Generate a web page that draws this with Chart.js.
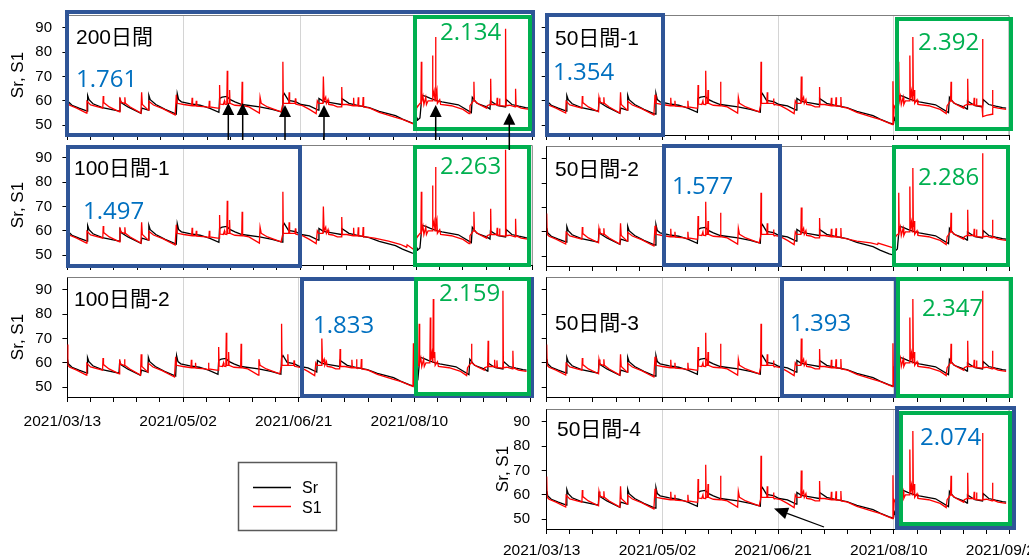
<!DOCTYPE html>
<html>
<head>
<meta charset="utf-8">
<script src="https://cdn.jsdelivr.net/npm/chart.js@4.4.1/dist/chart.umd.min.js"></script>
<style>
  body { margin: 0; background: #fff; width: 1029px; height: 556px; position: relative; overflow: hidden; }
  canvas { position: absolute; }
  #overlay { position: absolute; left: 0; top: 0; }
</style>
</head>
<body>
<svg id="overlay" width="1029" height="556"></svg>
<script>
// ---- data: day offsets from 2021/03/13 and values ----
const dateLabels = ['2021/03/13', '2021/05/02', '2021/06/21', '2021/08/10', '2021/09/29'];
const yTicks = [50, 60, 70, 80, 90];

const sr = [
  [0,61.5],[0.5,59.5],[2,58.2],[5,57],[8.5,55.8],
  [8.7,62.2],[9.3,60.5],[11,58.8],[15,57.2],[22.3,55.8],
  [22.6,60.5],[23.2,59.2],[26,57.5],[31.6,54.9],
  [32,57],[34.8,56.2],[35,62.3],[35.6,60.5],[38,58.5],[42,56.5],[46.8,54.6],
  [47.2,63],[47.8,60.5],[49,59.6],[53,58.8],[57,58.2],[61,57],[65.1,55.3],
  [65.4,61],[66.5,61.5],[68.5,61.8],[70,60.5],[72,59.6],[75,58.5],[82.6,57.5],[88,56.5],[92.3,55.4],
  [92.6,62],[93.2,63],[95,60.2],[98,59.7],[100.4,58.5],[104,57.9],[107.8,56.2],
  [108.1,61],[110,59.8],[115,59],[117.7,58.5],
  [117.9,61],[121,59],[125,58],[129.7,57.2],[134,55.7],[141,53.9],[144,52.5],[148,51],[149.8,50.5],
  [150.2,53],[150.6,52.2],[151.5,53],[152.3,61.5],[152.7,62.2],[154,61.8],[156,61],[159,60],[161,59.6],[168,58.4],[173.6,55.2],
  [174,61.5],[176,59],[180.4,57.4],[181.6,56.6],[181.8,60],[185,58],[188.3,57.5],
  [188.6,60.5],[191,58.5],[194,57.8],[196.9,57.2],[198.5,57]
];

const s1 = [
  [0,67.5],[0.2,59],[1,58.2],[4,57],[8.2,55],
  [8.4,59.8],[10,58.3],[15.2,57],[15.4,62],[15.6,59.3],[18,57.5],[22.4,55.5],
  [22.6,61.4],[23,59.5],[24.5,59],[24.7,61.5],[24.9,59],[27,57.5],[31.6,55],
  [31.9,63.5],[32.2,58.5],[34.8,56.2],[35,59.8],[37,58.3],[41,56.8],[46.3,54.2],
  [46.8,62.5],[47.2,59],[50,58.5],[53.4,58],[53.6,61.3],[53.8,58],[55.2,58],[55.4,60],[55.6,57.8],[59.5,57.5],[60.8,57.2],[61,60],[61.2,57.5],[64.5,57],
  [65.2,57],[65.4,66.5],[65.6,58.7],[67,58.5],[67.5,60],[67.7,58.6],[68.5,58.5],[68.7,72.3],[68.9,59],[69.5,59],[69.7,64.4],[69.9,59],[72,58.2],[74.9,58],[75.1,67.8],[75.3,58],[78,57.5],[82.5,55],
  [82.8,61.5],[83.3,59],[86,57.5],[91.8,55.5],
  [92.4,58],[92.6,76],[92.8,59],[95.1,59],[95.3,63.5],[95.5,59],[97.8,59],[98,61],[98.2,58.6],[101,58],[104,56.5],[106.9,54.8],
  [107.4,60],[108,59],[109.8,59],[110,70],[110.3,60],[111,61.5],[111.3,59],[112,60.5],[112.3,58.5],[114,58.3],[116,57.5],[117.7,57.5],[117.9,65.7],[118.1,58.5],[120,58.5],[122.8,58],[123,61.3],[123.2,58],[124.8,58],[125,61.5],[125.2,57.8],[126.9,57.8],[127.1,61.6],[127.3,57.5],[130,57],[134,55.3],[141,53.2],[144,52.4],[149.4,50.3],[149.6,68],[149.8,50.5],
  [150.1,58],[150.4,57.5],[151.5,59],[151.9,59],[152.1,76],[152.3,60],[152.8,62],[153.2,58.5],[154,61.5],[154.3,58.5],[155,60],[156.7,60],[156.9,78.6],[157.1,61],[157.6,64],[158,60],[158.2,86.2],[158.4,62],[158.8,64.4],[159,59],[160,60.5],[160.4,58.5],[165,58],[170,56.5],[172.6,54.8],
  [173,58],[174.5,60],[174.7,67.8],[174.9,60],[177,58.5],[180.2,57],[180.4,58],[181.7,58.5],[181.9,69.1],[182.1,58.5],[184.5,58.5],[184.7,61.3],[184.9,58.2],[185.5,58.2],[185.7,61],[185.9,58],[188.1,57.8],[188.3,89.6],[188.5,58],[190,58.2],[192.4,57.5],[192.6,65],[192.8,58],[195,57],[198.5,56.5]
];

// S1 differs a little between the fitting windows: replacement stretches
const s1Late100_1 = [[127.5,57.6],[132,57],[138,55.8],[143,54.5],[145.8,53.3],[146,54.3],[149.4,52],[149.6,68],[149.8,51.5]];
const s1Peak100_1 = [[188.3,93.3]];
const s1End50_1 = [[188.3,85.4],[188.5,53.5],[190,54],[192.4,54.5],[192.6,64.5],[192.8,57.5]];
const s1Late50_2 = [[127.5,57.6],[134,56.2],[140,55.5],[143,54.8],[143.2,55.4],[149.4,53.5],[149.6,68],[149.8,53.5]];
const s1Peak50_2 = [[188.3,92.2]];
const s1Peak50_4 = [[188.3,85.4]];

const panelNames = ['200日間', '100日間-1', '100日間-2', '50日間-1', '50日間-2', '50日間-3', '50日間-4'];
const blueScores = ['1.761', '1.497', '1.833', '1.354', '1.577', '1.393', '2.074'];
const greenScores = ['2.134', '2.263', '2.159', '2.392', '2.286', '2.347', ''];
const panelPatches = [[], [s1Late100_1, s1Peak100_1], [], [s1End50_1], [s1Late50_2, s1Peak50_2], [], [s1Peak50_4]];

// ---- layout ----
const PLOT_H = 120, PAD_T = 22, PAD_B = 14;
const cols = {
  L: { plotL: 67.4, plotR: 532.8 },
  R: { plotL: 546.7, plotR: 1009.6 }
};
const panels = [
  { col: 'L', top: 15,    canvasL: 0,   canvasR: 540,  xLabels: false, yLabels: true },
  { col: 'L', top: 145,   canvasL: 0,   canvasR: 540,  xLabels: false, yLabels: true },
  { col: 'L', top: 277,   canvasL: 0,   canvasR: 540,  xLabels: true,  yLabels: true, xPad: 10 },
  { col: 'R', top: 15,    canvasL: 540, canvasR: 1029, xLabels: false, yLabels: false },
  { col: 'R', top: 145.5, canvasL: 540, canvasR: 1029, xLabels: false, yLabels: false },
  { col: 'R', top: 277,   canvasL: 540, canvasR: 1029, xLabels: false, yLabels: false },
  { col: 'R', top: 408.5, canvasL: 490, canvasR: 1062, xLabels: true,  yLabels: true, xPad: 7, last: true }
];

function applyPatches(base, patches) {
  let out = base.slice();
  patches.forEach(p => {
    const lo = p[0][0], hi = p[p.length - 1][0];
    out = out.filter(q => q[0] < lo || q[0] > hi).concat(p);
  });
  return out.sort((a, b) => a[0] - b[0]).map(([x, y]) => ({ x, y }));
}

const frame = {
  id: 'frame',
  afterDatasetsDraw(chart) {
    const a = chart.chartArea, ctx = chart.ctx;
    ctx.save();
    ctx.strokeStyle = '#7f7f7f';
    ctx.lineWidth = 1;
    ctx.beginPath();
    ctx.moveTo(a.left, a.top + 0.5);
    ctx.lineTo(a.right - 0.5, a.top + 0.5);
    ctx.lineTo(a.right - 0.5, a.bottom);
    ctx.stroke();
    ctx.restore();
  }
};

const FONT = '"Liberation Sans", Arial, "Noto Sans CJK JP", sans-serif';
const dayTicks = [];
for (let d = 0; d <= 200; d += 10) dayTicks.push(d);

panels.forEach((p, i) => {
  const c = cols[p.col];
  const yw = c.plotL - p.canvasL;
  const xh = p.xLabels ? 36 : 8;
  const w = p.canvasR - p.canvasL;
  const h = PAD_T + PLOT_H + xh + PAD_B;
  const cv = document.createElement('canvas');
  cv.width = w; cv.height = h;
  cv.style.left = p.canvasL + 'px';
  cv.style.top = (p.top - PAD_T) + 'px';
  cv.style.width = w + 'px'; cv.style.height = h + 'px';
  document.body.insertBefore(cv, document.getElementById('overlay'));

  new Chart(cv.getContext('2d'), {
    type: 'line',
    data: {
      datasets: [
        { label: 'S1', data: applyPatches(s1, panelPatches[i]), borderColor: '#ff0000', borderWidth: 1.3, pointRadius: 0, tension: 0, order: 0 },
        { label: 'Sr', data: sr.map(([x, y]) => ({ x, y })), borderColor: '#000000', borderWidth: 1.3, pointRadius: 0, tension: 0, order: 1 }
      ]
    },
    options: {
      responsive: false,
      animation: false,
      events: [],
      layout: { autoPadding: false, padding: { left: 0, right: p.canvasR - c.plotR, top: PAD_T, bottom: PAD_B } },
      plugins: { legend: { display: false }, tooltip: { enabled: false } },
      scales: {
        x: {
          type: 'linear', min: 0, max: 200,
          afterBuildTicks: s => { s.ticks = dayTicks.map(v => ({ value: v })); },
          afterFit: s => { s.height = xh; },
          border: { color: '#000', width: 1 },
          grid: {
            color: ctx => (ctx.tick && ctx.tick.value % 50 === 0 && ctx.tick.value > 0 && ctx.tick.value < 200) ? '#d4d4d4' : 'rgba(0,0,0,0)',
            tickColor: '#000', tickLength: 5, lineWidth: 1
          },
          ticks: {
            display: p.xLabels, autoSkip: false, maxRotation: 0, padding: p.xPad || 7, labelOffset: -5,
            color: '#000', font: { size: 15.5, family: FONT },
            callback: v => (v % 50 === 0 && (p.last || v < 200)) ? dateLabels[v / 50] : ''
          }
        },
        y: {
          min: 46, max: 95.2,
          afterBuildTicks: s => { s.ticks = yTicks.map(v => ({ value: v })); },
          afterFit: s => { s.width = yw; },
          border: { color: '#000', width: 1 },
          grid: { drawOnChartArea: false, tickColor: '#000', tickLength: 5 },
          ticks: { display: p.yLabels, padding: p.last ? 11.7 : 10.4, color: '#000', font: { size: 15, family: FONT } },
          title: { display: p.yLabels, text: 'Sr, S1', color: '#000', font: { size: 17, family: FONT }, padding: { top: p.last ? 2.8 : 8.3, bottom: 0 } }
        }
      }
    },
    plugins: [frame]
  });
});

// ---- overlay: window boxes, labels, arrows, legend ----
const BLUE = '#2F5597', GREEN = '#00B050';
const boxes = [
  [65, 10, 535, 137, BLUE], [413, 15, 532, 131, GREEN],
  [66, 145, 302, 268, BLUE], [413, 145, 531, 267, GREEN],
  [300, 277, 534, 398, BLUE], [414, 277, 531, 396, GREEN],
  [545, 13, 665, 137, BLUE], [895, 17, 1013, 131, GREEN],
  [662, 144, 782, 267, BLUE], [892, 145, 1010, 267, GREEN],
  [780, 277, 898, 398, BLUE], [896, 277, 1013, 398, GREEN],
  [895, 406, 1016, 530, BLUE], [899, 411, 1012, 526, GREEN]
];
const nameXY = [[76, 43.5], [74, 174.5], [74, 306], [555, 45], [555, 175.5], [555, 330], [557, 436]];
const blueXY = [[76, 87.3], [83, 219], [313, 333], [553, 80], [672, 194], [790, 331], [920, 445]];
const greenXY = [[440, 39.5], [440, 174], [439, 301], [918, 50], [918, 185], [922, 316], null];
const upArrows = [[228.3, 140, 103], [242.7, 140, 103], [285, 140, 105], [324, 140, 105], [435.7, 140, 105], [509.3, 150, 112.7]];

let svg = '';
boxes.forEach(([x1, y1, x2, y2, col]) => {
  const sw = 4;
  svg += `<rect x="${x1 + sw / 2}" y="${y1 + sw / 2}" width="${x2 - x1 - sw}" height="${y2 - y1 - sw}" fill="none" stroke="${col}" stroke-width="${sw}"/>`;
});
const tFont = `font-family='"Liberation Sans", Arial, "Noto Sans CJK JP", sans-serif'`;
const nFont = `font-family='"Open Sans", "Noto Sans", sans-serif'`;
panelNames.forEach((n, i) => {
  svg += `<text x="${nameXY[i][0]}" y="${nameXY[i][1]}" ${tFont} font-size="21" fill="#000">${n}</text>`;
  svg += `<text x="${blueXY[i][0]}" y="${blueXY[i][1]}" ${nFont} font-size="24" fill="#0070C0">${blueScores[i]}</text>`;
  if (greenXY[i]) svg += `<text x="${greenXY[i][0]}" y="${greenXY[i][1]}" ${nFont} font-size="24" fill="${GREEN}">${greenScores[i]}</text>`;
});
upArrows.forEach(([x, y0, tip]) => {
  svg += `<line x1="${x}" y1="${y0}" x2="${x}" y2="${tip + 8}" stroke="#000" stroke-width="1.5"/>`;
  svg += `<polygon points="${x},${tip} ${x - 6},${tip + 12} ${x + 6},${tip + 12}" fill="#000"/>`;
});
// diagonal arrow in 50日間-4
{
  const tx = 824, ty = 527, hx = 774, hy = 508.5;
  const dx = hx - tx, dy = hy - ty, len = Math.hypot(dx, dy), ux = dx / len, uy = dy / len;
  const bx = hx - ux * 14, by = hy - uy * 14;
  svg += `<line x1="${tx}" y1="${ty}" x2="${bx}" y2="${by}" stroke="#000" stroke-width="1.3"/>`;
  svg += `<polygon points="${hx},${hy} ${bx - uy * 6},${by + ux * 6} ${bx + uy * 6},${by - ux * 6}" fill="#000"/>`;
}
// legend
svg += `<rect x="238.5" y="462.5" width="98" height="68" fill="#fff" stroke="#595959" stroke-width="1.5"/>`;
svg += `<line x1="253" y1="487.5" x2="291" y2="487.5" stroke="#000" stroke-width="1.3"/>`;
svg += `<line x1="253" y1="506.5" x2="291" y2="506.5" stroke="#ff0000" stroke-width="1.3"/>`;
svg += `<text x="302" y="493" ${tFont} font-size="16" fill="#000">Sr</text>`;
svg += `<text x="302" y="512.5" ${tFont} font-size="16" fill="#000">S1</text>`;
document.getElementById('overlay').innerHTML = svg;
</script>
</body>
</html>
